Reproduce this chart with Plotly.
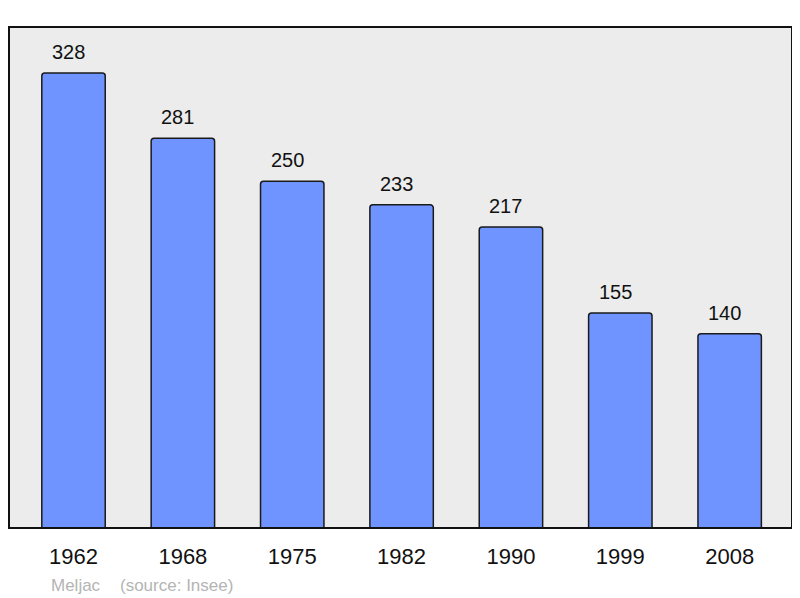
import plotly.graph_objects as go

# Population data
years = ["1962", "1968", "1975", "1982", "1990", "1999", "2008"]
population = [328, 281, 250, 233, 217, 155, 140]
town = "Meljac"
source = "(source: Insee)"

fig = go.Figure()

fig.add_trace(go.Bar(
    x=years,
    y=population,
    width=0.58,
    marker=dict(color="#7094ff", line=dict(color="#1a1a1a", width=1.5), cornerradius=3),
    hoverinfo="x+y"
))

# Value labels above bars (category index positions)
for i, pop in enumerate(population):
    fig.add_annotation(
        x=i, y=pop, text=str(pop), showarrow=False,
        yanchor="bottom", yshift=8, xshift=-5,
        font=dict(size=20, color="#111111")
    )

# Source line
fig.add_annotation(
    x=40 / 783, y=-0.114, xref="paper", yref="paper", text=town,
    showarrow=False, xanchor="left", yanchor="middle",
    font=dict(size=17, color="#b4b4b4")
)
fig.add_annotation(
    x=109 / 783, y=-0.114, xref="paper", yref="paper", text=source,
    showarrow=False, xanchor="left", yanchor="middle",
    font=dict(size=17, color="#b4b4b4")
)

# Plot frame
fig.add_shape(
    type="rect", xref="paper", yref="paper", x0=0, y0=0, x1=1, y1=1,
    line=dict(color="#111111", width=2), layer="above"
)

fig.update_layout(
    width=800, height=598,
    margin=dict(l=1, r=16, t=19, b=78),
    paper_bgcolor="white",
    plot_bgcolor="#ececec",
    font=dict(family="Liberation Sans, Arial, sans-serif", color="#111111"),
    showlegend=False,
    xaxis=dict(
        type="category",
        range=[-0.59, 6.57], showgrid=False, zeroline=False,
        ticks="outside", ticklen=9, tickcolor="rgba(0,0,0,0)",
        tickfont=dict(size=22, color="#111111")
    ),
    yaxis=dict(
        range=[0, 361.2], showgrid=False, zeroline=False,
        showticklabels=False
    )
)

fig.write_html("out.html")
